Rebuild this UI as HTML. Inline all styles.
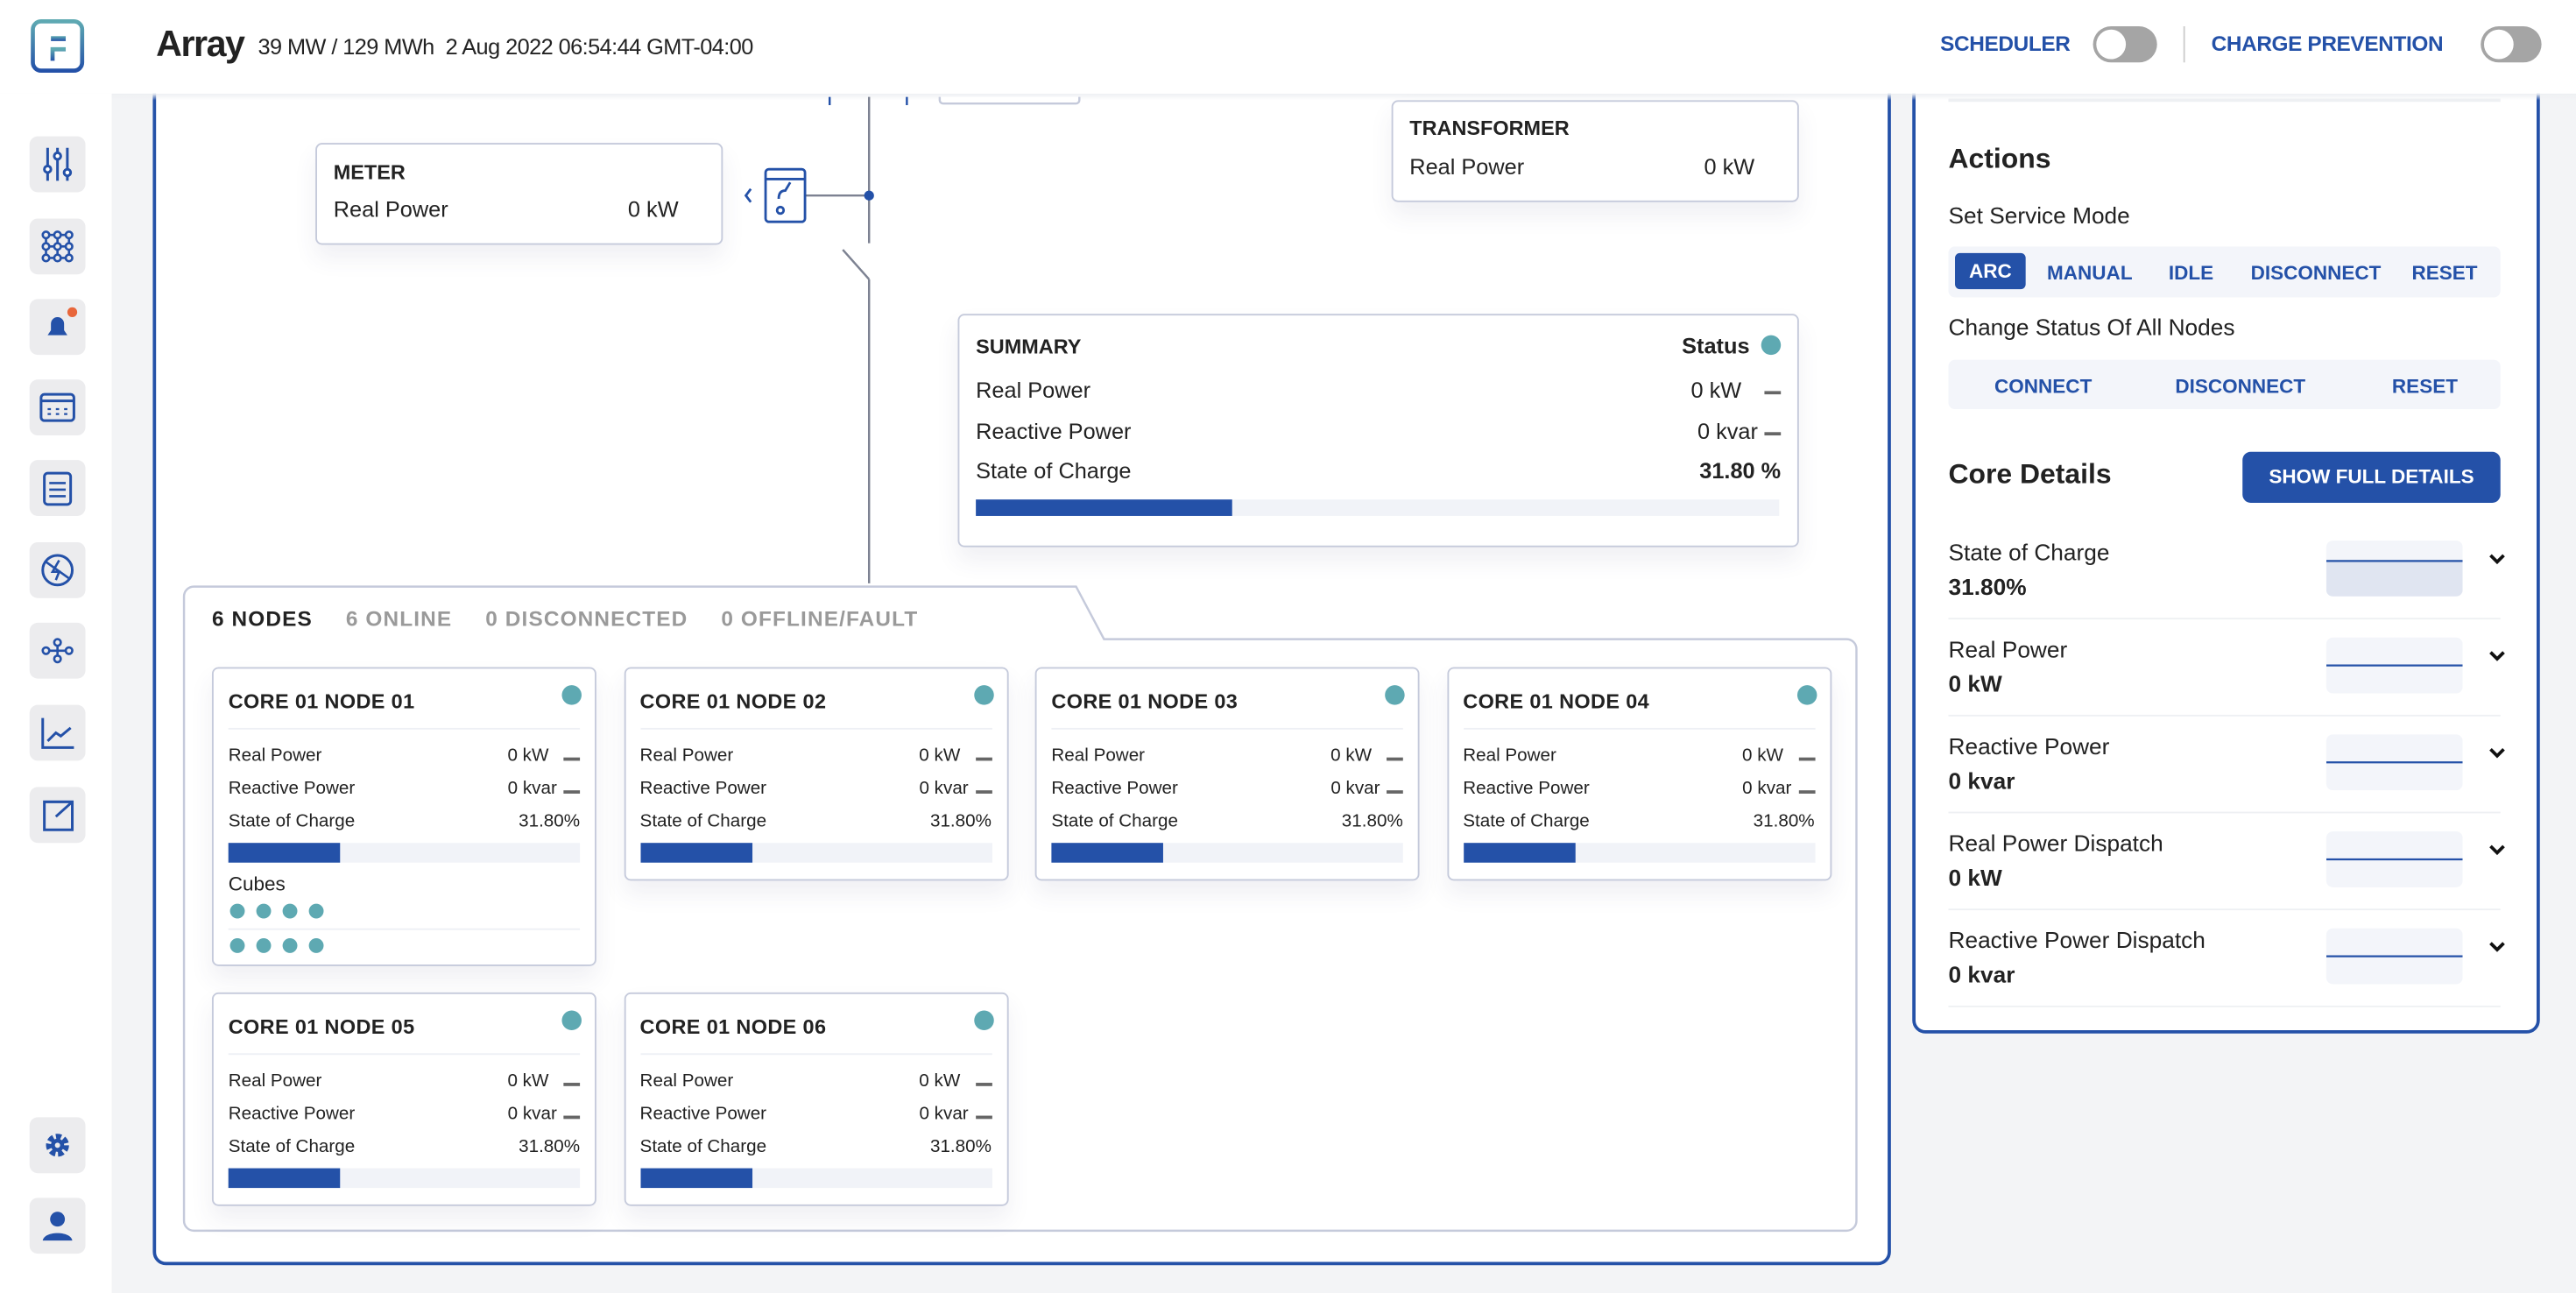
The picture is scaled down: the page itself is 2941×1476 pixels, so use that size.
<!DOCTYPE html>
<html><head><meta charset="utf-8">
<style>
*{box-sizing:border-box;margin:0;padding:0}
html,body{width:2941px;height:1476px;overflow:hidden;background:#f3f4f6;font-family:"Liberation Sans",sans-serif;color:#222}
#root{position:absolute;left:0;top:0;width:1568px;height:787px;transform:scale(1.87564);transform-origin:0 0;background:#f3f4f6}
.abs{position:absolute}
.cond{font-family:"Liberation Sans Narrow","Liberation Sans",sans-serif}
.card{position:absolute;background:#fff;border:1.5px solid #c5cadb;border-radius:4px;box-shadow:0 8px 14px rgba(60,70,110,.08)}
.navbtn{position:absolute;left:18px;width:34px;height:34px;background:#ececee;border-radius:5px}
.blue{color:#2451a8}
.ncard{position:absolute;width:234px;background:#fff;border:1.5px solid #c5cadb;border-radius:4px;box-shadow:0 8px 14px rgba(60,70,110,.08);font-size:11px}
.ncard .t{position:absolute;left:9px;top:13px;font-weight:bold;font-size:12.5px;letter-spacing:.2px}
.ncard .dot{position:absolute;right:8px;top:10px;width:12px;height:12px;border-radius:50%;background:#5ea9b2}
.ncard .sep{position:absolute;left:9px;right:9px;top:36px;height:1px;background:#eef0f5}
.ncard .row{position:absolute;left:9px;right:9px;height:14px}
.ncard .row .l{position:absolute;left:0}
.ncard .row .v{position:absolute;right:19px}
.ncard .row .d{position:absolute;right:0;top:7px;width:10px;height:2px;background:#666}
.ncard .bar{position:absolute;left:9px;right:9px;top:106px;height:12px;background:#f1f3f8}
.ncard .bar i{display:block;height:100%;background:#2451a8}
.rrow{position:absolute;left:1186px;width:336px;height:59px;border-bottom:1.5px solid #eef0f3}
.rrow .l{position:absolute;left:0;top:10px;font-size:14px}
.rrow .v{position:absolute;left:0;top:31px;font-size:14px;font-weight:bold}
.rrow .sp{position:absolute;left:230px;top:11px;width:83px;height:34px;background:#f3f5fa;border-radius:4px;overflow:hidden}
.rrow .ch{position:absolute;left:328px;top:16px;font-size:13px;font-weight:bold}
</style></head><body>
<div id="root">
<!-- panels first, header on top -->
<div class="abs" style="left:93px;top:50px;width:1058px;height:720px;background:#fff;border:2px solid #2451a8;border-radius:0 0 8px 8px"></div>
<div class="abs" style="left:1164px;top:50px;width:382px;height:579px;background:#fff;border:2px solid #2451a8;border-radius:0 0 8px 8px"></div>

<div class="abs" style="left:0;top:0;width:1568px;height:57px;background:#fff"></div>
<div class="abs" style="left:68px;top:57px;width:1500px;height:4px;background:linear-gradient(#eef0f3,rgba(255,255,255,0))"></div>
<svg class="abs" style="left:18px;top:11px" width="36" height="34"><defs><linearGradient id="lg" x1="0" y1="0" x2="0" y2="1"><stop offset="0" stop-color="#5ea9b2"/><stop offset="1" stop-color="#2451a8"/></linearGradient></defs><rect x="2" y="2" width="30" height="30" rx="5" fill="none" stroke="url(#lg)" stroke-width="2.5"/><rect x="13" y="11" width="9" height="3" fill="url(#lg)"/><path d="M14 26V19H22" fill="none" stroke="url(#lg)" stroke-width="2.5"/></svg>
<div class="abs" style="left:95px;top:14px;font-size:22px;font-weight:bold;letter-spacing:-.8px">Array</div>
<div class="abs" style="left:157px;top:21px;font-size:13.5px;letter-spacing:-.3px">39 MW / 129 MWh &nbsp;2 Aug 2022 06:54:44 GMT-04:00</div>
<div class="abs blue" style="left:1181px;top:19px;font-size:13px;font-weight:bold;letter-spacing:-.2px">SCHEDULER</div>
<div class="abs" style="left:1274px;top:16px;width:39px;height:22px;border-radius:11px;background:#a5a5a5"><div style="position:absolute;left:2px;top:2px;width:18px;height:18px;border-radius:50%;background:#fff"></div></div>
<div class="abs" style="left:1329px;top:16px;width:1px;height:22px;background:#ccc"></div>
<div class="abs blue" style="left:1346px;top:19px;font-size:13px;font-weight:bold;letter-spacing:-.2px">CHARGE PREVENTION</div>
<div class="abs" style="left:1510px;top:16px;width:37px;height:22px;border-radius:11px;background:#a5a5a5"><div style="position:absolute;left:2px;top:2px;width:18px;height:18px;border-radius:50%;background:#fff"></div></div>

<!-- sidebar -->
<div class="abs" style="left:0;top:57px;width:68px;height:730px;background:#fff"></div>
<div class="navbtn" style="top:83px"><svg width="34" height="34"><g stroke="#2451a8" stroke-width="1.6" fill="#fff"><line x1="11" y1="7" x2="11" y2="27"/><line x1="17" y1="7" x2="17" y2="27"/><line x1="23" y1="7" x2="23" y2="27"/><circle cx="11" cy="20" r="2"/><circle cx="17" cy="12" r="2"/><circle cx="23" cy="22" r="2"/></g></svg></div>
<div class="navbtn" style="top:133px"><svg width="34" height="34"><g stroke="#2451a8" stroke-width="1.4" fill="#ececee"><path d="M10 10H24M10 17H24M10 24H24M10 10V24M17 10V24M24 10V24"/><circle cx="10" cy="10" r="2"/><circle cx="17" cy="10" r="2"/><circle cx="24" cy="10" r="2"/><circle cx="10" cy="17" r="2"/><circle cx="17" cy="17" r="2"/><circle cx="24" cy="17" r="2"/><circle cx="10" cy="24" r="2"/><circle cx="17" cy="24" r="2"/><circle cx="24" cy="24" r="2"/></g></svg></div>
<div class="navbtn" style="top:182px"><svg width="34" height="34"><path d="M11 22h12l-2-3v-4a4 4 0 0 0-8 0v4z" fill="#2451a8"/><circle cx="26" cy="8" r="3" fill="#e8663a"/></svg></div>
<div class="navbtn" style="top:231px"><svg width="34" height="34"><rect x="7" y="9" width="20" height="16" rx="2" fill="none" stroke="#2451a8" stroke-width="1.6"/><line x1="7" y1="13" x2="27" y2="13" stroke="#2451a8" stroke-width="1.6"/><path d="M11 18h2M16 18h2M21 18h2M11 21h2M16 21h2M21 21h2" stroke="#2451a8" stroke-width="1.2"/></svg></div>
<div class="navbtn" style="top:280px"><svg width="34" height="34"><rect x="9" y="8" width="16" height="19" rx="2" fill="none" stroke="#2451a8" stroke-width="1.6"/><path d="M12 14h10M12 18h10M12 22h10" stroke="#2451a8" stroke-width="1.4"/></svg></div>
<div class="navbtn" style="top:330px"><svg width="34" height="34"><circle cx="17" cy="17" r="9" fill="none" stroke="#2451a8" stroke-width="1.6"/><path d="M18 11l-4 7h4l-2 5" stroke="#2451a8" fill="none" stroke-width="1.4"/><line x1="10" y1="12" x2="24" y2="22" stroke="#2451a8" stroke-width="1.4"/></svg></div>
<div class="navbtn" style="top:379px"><svg width="34" height="34"><g stroke="#2451a8" stroke-width="1.4" fill="none"><circle cx="10" cy="17" r="2"/><circle cx="17" cy="12" r="2"/><circle cx="17" cy="22" r="2"/><circle cx="24" cy="17" r="2"/><path d="M12 17h10M17 14v6"/></g></svg></div>
<div class="navbtn" style="top:429px"><svg width="34" height="34"><path d="M8 8v18h19M11 22l5-5 3 2 6-5" stroke="#2451a8" stroke-width="1.6" fill="none"/></svg></div>
<div class="navbtn" style="top:479px"><svg width="34" height="34"><path d="M20 9H9v17h17V15M16 18l10-9M20 9h6v6" stroke="#2451a8" stroke-width="1.6" fill="none"/></svg></div>
<div class="navbtn" style="top:680px"><svg width="34" height="34"><circle cx="17" cy="17" r="5" fill="none" stroke="#2451a8" stroke-width="4" stroke-dasharray="3 1.5"/><circle cx="17" cy="17" r="4" fill="#2451a8"/><circle cx="17" cy="17" r="1.6" fill="#ececee"/></svg></div>
<div class="navbtn" style="top:729px"><svg width="34" height="34"><circle cx="17" cy="13" r="4.5" fill="#2451a8"/><path d="M8 26c1-6 17-6 18 0z" fill="#2451a8"/></svg></div>

<svg class="abs" style="left:0;top:0" width="1160" height="360">
<g stroke="#7d8292" stroke-width="1.3" fill="none">
<line x1="529" y1="59" x2="529" y2="148"/><line x1="513" y1="152" x2="529" y2="170"/><line x1="529" y1="170" x2="529" y2="355"/>
<line x1="490" y1="119" x2="529" y2="119"/></g>
<circle cx="529" cy="119" r="3" fill="#2451a8"/>
<line x1="505" y1="59" x2="505" y2="64" stroke="#2451a8" stroke-width="1.3"/><line x1="552" y1="59" x2="552" y2="64" stroke="#2451a8" stroke-width="1.3"/>
<path d="M572 59v2a2 2 0 0 0 2 2h81a2 2 0 0 0 2-2v-2" stroke="#c5cadb" stroke-width="1.3" fill="#fff"/>
<g stroke="#2451a8" stroke-width="1.5" fill="none"><rect x="466" y="103" width="24" height="32" rx="2"/><line x1="466" y1="109" x2="490" y2="109"/><path d="M474 121q0-5 4-5l3-5"/><circle cx="475" cy="128" r="2"/><path d="M457 115l-3 4 3 4"/></g>
</svg>
<div class="card" style="left:192px;top:87px;width:248px;height:62px">
<div class="abs" style="left:10px;top:10px;font-weight:bold;font-size:12.5px">METER</div>
<div class="abs" style="left:10px;top:32px;font-size:13.5px">Real Power</div>
<div class="abs" style="right:26px;top:32px;font-size:13.5px">0 kW</div></div>
<div class="card" style="left:847px;top:61px;width:248px;height:62px">
<div class="abs" style="left:10px;top:9px;font-weight:bold;font-size:12.5px">TRANSFORMER</div>
<div class="abs" style="left:10px;top:32px;font-size:13.5px">Real Power</div>
<div class="abs" style="right:26px;top:32px;font-size:13.5px">0 kW</div></div>
<div class="card" style="left:583px;top:191px;width:512px;height:142px;font-size:13.5px">
<div class="abs" style="left:10px;top:12px;font-weight:bold;font-size:12.5px">SUMMARY</div>
<div class="abs" style="right:29px;top:11px;font-weight:bold">Status</div>
<div class="abs" style="right:10px;top:12px;width:12px;height:12px;border-radius:50%;background:#5ea9b2"></div>
<div class="abs" style="left:10px;top:38px">Real Power</div>
<div class="abs" style="right:34px;top:38px">0 kW</div>
<div class="abs" style="right:10px;top:46px;width:10px;height:2px;background:#666"></div>
<div class="abs" style="left:10px;top:63px">Reactive Power</div>
<div class="abs" style="right:24px;top:63px">0 kvar</div>
<div class="abs" style="right:10px;top:71px;width:10px;height:2px;background:#666"></div>
<div class="abs" style="left:10px;top:87px">State of Charge</div>
<div class="abs" style="right:10px;top:87px;font-weight:bold">31.80 %</div>
<div class="abs" style="left:10px;top:112px;width:489px;height:10px;background:#f1f3f8"><div id="sumbar" style="height:100%;background:#2451a8"></div></div>
</div>

<svg class="abs" style="left:110px;top:353px" width="1024" height="400"><path d="M2 390V10a6 6 0 0 1 6-6H545l17 32H1014a6 6 0 0 1 6 6V390a6 6 0 0 1-6 6H8a6 6 0 0 1-6-6z" fill="#fff" stroke="#c5cadb" stroke-width="1.3"/></svg>
<div class="abs" style="left:129px;top:369px;font-size:13px;font-weight:bold;letter-spacing:.6px;white-space:nowrap">
<span style="color:#222">6 NODES</span>
<span style="color:#9a9a9a;margin-left:16px">6 ONLINE</span>
<span style="color:#9a9a9a;margin-left:16px">0 DISCONNECTED</span>
<span style="color:#9a9a9a;margin-left:16px">0 OFFLINE/FAULT</span></div>
<div id="nodes"></div>

<div class="abs" style="left:1186px;top:60px;width:336px;height:1.5px;background:#eef0f3"></div>
<div class="abs" style="left:1186px;top:87px;font-size:17px;font-weight:bold">Actions</div>
<div class="abs" style="left:1186px;top:123px;font-size:14px">Set Service Mode</div>
<div class="abs blue" style="left:1186px;top:150px;width:336px;height:31px;background:#f3f5fa;border-radius:4px;font-size:12px;font-weight:bold">
<div class="abs" style="left:4px;top:4px;width:43px;height:22px;background:#2451a8;color:#fff;border-radius:3px;text-align:center;line-height:22px">ARC</div>
<div class="abs" style="left:60px;top:9px">MANUAL</div>
<div class="abs" style="left:134px;top:9px">IDLE</div>
<div class="abs" style="left:184px;top:9px">DISCONNECT</div>
<div class="abs" style="left:282px;top:9px">RESET</div></div>
<div class="abs" style="left:1186px;top:191px;font-size:14px">Change Status Of All Nodes</div>
<div class="abs blue" style="left:1186px;top:219px;width:336px;height:30px;background:#f3f5fa;border-radius:4px;font-size:12px;font-weight:bold">
<div class="abs" style="left:28px;top:9px">CONNECT</div>
<div class="abs" style="left:138px;top:9px">DISCONNECT</div>
<div class="abs" style="left:270px;top:9px">RESET</div></div>
<div class="abs" style="left:1186px;top:279px;font-size:17px;font-weight:bold">Core Details</div>
<div class="abs" style="left:1365px;top:275px;width:157px;height:31px;background:#2451a8;color:#fff;border-radius:5px;font-size:12px;font-weight:bold;text-align:center;line-height:31px">SHOW FULL DETAILS</div>
<div id="rrows"></div>
</div>
<script>
// SOC values per node (percent)
const nodeNames = ["CORE 01 NODE 01","CORE 01 NODE 02","CORE 01 NODE 03","CORE 01 NODE 04","CORE 01 NODE 05","CORE 01 NODE 06"];
const nodeRealPower = [0,0,0,0,0,0];
const nodeReactivePower = [0,0,0,0,0,0];
const nodeSoc = [31.8,31.8,31.8,31.8,31.8,31.8];
const summarySoc = 31.8;
const cubeCounts = [8,0,0,0,0,0];
const detailLabels = ["State of Charge","Real Power","Reactive Power","Real Power Dispatch","Reactive Power Dispatch"];
const detailValues = ["31.80%","0 kW","0 kvar","0 kW","0 kvar"];
const sparkSeries = [[31.8,31.8,31.8,31.8],[0,0,0,0],[0,0,0,0],[0,0,0,0],[0,0,0,0]];
const sparkDomains = [[0,50],[-1,1],[-1,1],[-1,1],[-1,1]];

document.getElementById('sumbar').style.width = summarySoc + '%';

const nodes = document.getElementById('nodes');
nodeNames.forEach((n,i)=>{
  const col=i%4,row=Math.floor(i/4);
  const x=129+col*250.5,y=row?604:406;
  const h=cubeCounts[i]?182:130;
  const c=document.createElement('div');
  c.className='ncard';
  
  
  c.style.left=x+'px';c.style.top=y+'px';c.style.height=h+'px';
  c.innerHTML=`<div class="t">${n}</div><div class="dot"></div><div class="sep"></div>
  <div class="row" style="top:47px"><span class="l">Real Power</span><span class="v">${nodeRealPower[i]} kW</span><span class="d"></span></div>
  <div class="row" style="top:67px"><span class="l">Reactive Power</span><span class="v" style="right:14px">${nodeReactivePower[i]} kvar</span><span class="d"></span></div>
  <div class="row" style="top:87px"><span class="l">State of Charge</span><span class="v" style="right:0">${nodeSoc[i].toFixed(2)}%</span></div>
  <div class="bar"><i style="width:${nodeSoc[i]}%"></i></div>`;
  if(cubeCounts[i]){
    let s=`<div style="position:absolute;left:9px;top:124px;font-size:12px">Cubes</div><div style="position:absolute;left:9px;right:9px;top:158px;height:1px;background:#eef0f5"></div>`;
    for(let k=0;k<cubeCounts[i];k++){const r=Math.floor(k/4),q=k%4;
      s+=`<div style="position:absolute;left:${10+q*16}px;top:${143+r*21}px;width:9px;height:9px;border-radius:50%;background:#5ea9b2"></div>`;}
    c.innerHTML+=s;
  }
  nodes.appendChild(c);
});

const rr=document.getElementById('rrows');
detailLabels.forEach((l,i)=>{
  const d=document.createElement('div');
  d.className='rrow';
  
  
  d.style.top=(318+i*59)+'px';
  const [lo,hi]=sparkDomains[i];
  const ys=v=>34-(v-lo)/(hi-lo)*34;
  const pts=sparkSeries[i].map((v,k)=>(k/(sparkSeries[i].length-1)*83).toFixed(1)+','+ys(v).toFixed(1)).join(' ');
  const fill=i===0?`<polygon points="0,34 ${pts} 83,34" fill="#e0e5f1"/>`:'';
  d.innerHTML=`<div class="l">${l}</div><div class="v">${detailValues[i]}</div>
  <div class="sp"><svg width="83" height="34">${fill}<polyline points="${pts}" fill="none" stroke="#2451a8" stroke-width="1.2"/></svg></div>
  <div class="ch"><svg width="12" height="10"><path d="M2 2l4 4 4-4" stroke="#111" stroke-width="2" fill="none"/></svg></div>`;
  rr.appendChild(d);
});
</script>
</body></html>
